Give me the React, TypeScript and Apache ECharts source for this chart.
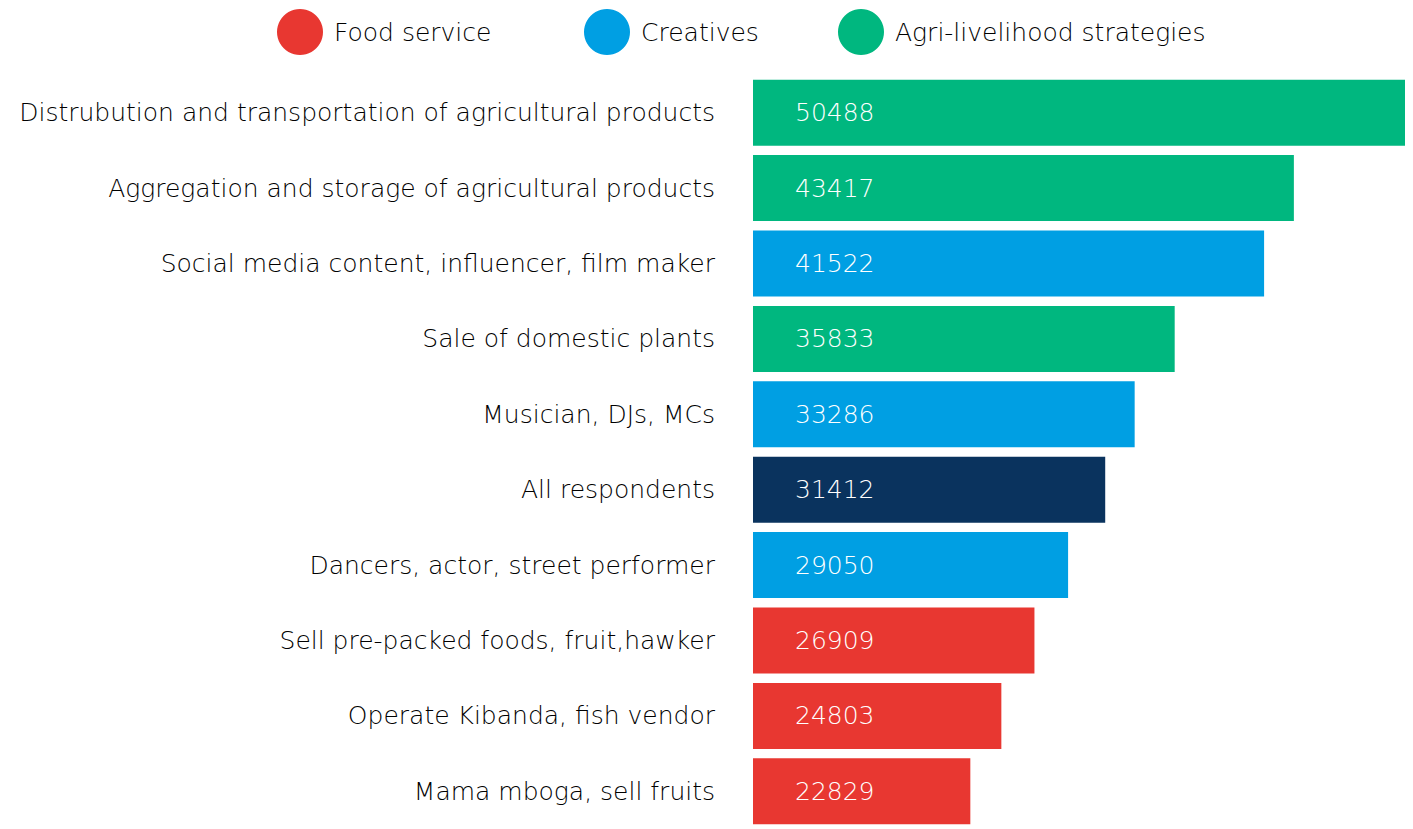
import React, { useEffect, useRef } from "react";
import * as echarts from "echarts";

const categories = [
  "Distrubution and transportation of agricultural products",
  "Aggregation and storage of agricultural products",
  "Social media content, influencer, film maker",
  "Sale of domestic plants",
  "Musician, DJs, MCs",
  "All respondents",
  "Dancers, actor, street performer",
  "Sell pre-packed foods, fruit,hawker",
  "Operate Kibanda, fish vendor",
  "Mama mboga, sell fruits",
];
const values = [50488, 43417, 41522, 35833, 33286, 31412, 29050, 26909, 24803, 22829];
const groups = ["agri", "agri", "creative", "agri", "creative", "all", "creative", "food", "food", "food"];

const FOOD = "#E83731";
const CREATIVE = "#009FE3";
const AGRI = "#00B77F";
const ALL = "#0A335E";

const FONT = "'DejaVu Sans', sans-serif";
const WEIGHT = 200;

function pick(group: string) {
  return values.map((v, i) => (groups[i] === group ? v : "-"));
}

export default function App() {
  const ref = useRef<HTMLDivElement>(null);
  useEffect(() => {
    if (!ref.current) return;
    const chart = echarts.init(ref.current, undefined, { renderer: "svg" });
    const label = {
      show: true,
      position: "insideLeft" as const,
      distance: 42,
      color: "#ffffff",
      fontSize: 25,
      fontFamily: FONT,
      fontWeight: WEIGHT,
    };
    const mk = (name: string, group: string, color: string) => ({
      name,
      type: "bar",
      stack: "s",
      barWidth: 66,
      data: pick(group),
      itemStyle: { color },
      label,
    });
    const legendBase = {
      top: 9,
      padding: 0,
      itemWidth: 46,
      itemHeight: 46,
      icon: "circle",
      textStyle: {
        fontSize: 25,
        color: "#000000",
        fontFamily: FONT,
        fontWeight: WEIGHT,
        padding: [0, 0, 0, 6],
      },
    };
    chart.setOption({
      animation: false,
      legend: [
        { ...legendBase, left: 277, data: ["Food service"] },
        { ...legendBase, left: 584, data: ["Creatives"] },
        { ...legendBase, left: 838, data: ["Agri-livelihood strategies"] },
      ],
      grid: { left: 753, right: 8, top: 75, bottom: -1, containLabel: false },
      xAxis: { type: "value", min: 9000, max: 50488, show: false },
      yAxis: {
        type: "category",
        inverse: true,
        data: categories,
        axisLine: { show: false },
        axisTick: { show: false },
        splitLine: { show: false },
        axisLabel: {
          fontSize: 25,
          color: "#000000",
          fontFamily: FONT,
          fontWeight: WEIGHT,
          margin: 38,
        },
      },
      series: [
        mk("Food service", "food", FOOD),
        mk("Creatives", "creative", CREATIVE),
        mk("Agri-livelihood strategies", "agri", AGRI),
        mk("All respondents", "all", ALL),
      ],
    });
    return () => chart.dispose();
  }, []);
  return (
    <div
      ref={ref}
      style={{ position: "absolute", left: 0, top: 0, width: 1413, height: 829 }}
    />
  );
}
